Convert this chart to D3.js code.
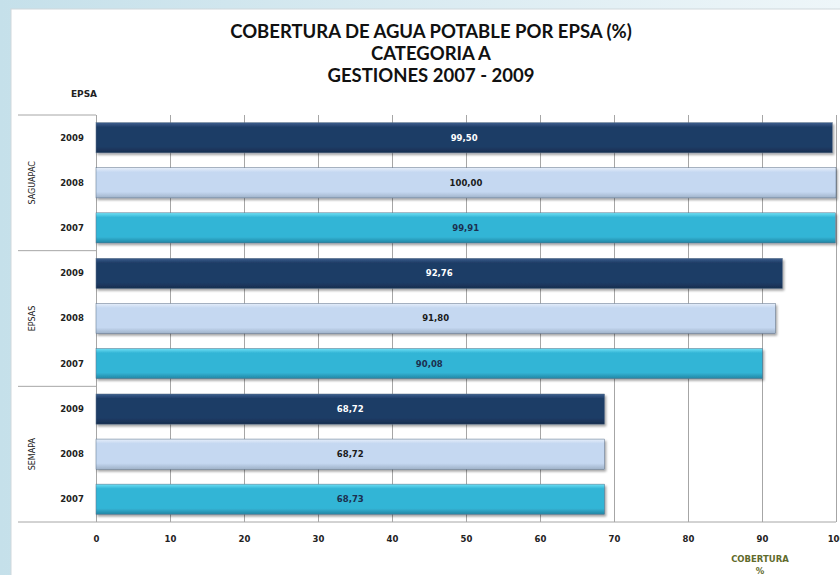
<!DOCTYPE html>
<html>
<head>
<meta charset="utf-8">
<script src="https://cdn.jsdelivr.net/npm/d3@7"></script>
<style>
  html, body { margin: 0; padding: 0; }
  body { width: 840px; height: 575px; overflow: hidden; background: #fff; }
</style>
</head>
<body>
<svg id="chart" width="840" height="575"></svg>
<script>
// data
var epsas = ["SAGUAPAC", "EPSAS", "SEMAPA"];
var years = ["2009", "2008", "2007"];
var v2009 = [99.50, 92.76, 68.72];
var v2008 = [100.00, 91.80, 68.72];
var v2007 = [99.91, 90.08, 68.73];
var xTicks = [0, 10, 20, 30, 40, 50, 60, 70, 80, 90, 100];
var titleLines = ["COBERTURA DE AGUA POTABLE POR EPSA (%)", "CATEGORIA A", "GESTIONES 2007 - 2009"];

var byYear = {"2009": v2009, "2008": v2008, "2007": v2007};
var rows = [];
epsas.forEach(function(e, i) {
  years.forEach(function(y) {
    rows.push({epsa: e, year: y, value: byYear[y][i]});
  });
});

var fills = {"2009": "url(#g2009)", "2008": "url(#g2008)", "2007": "url(#g2007)"};
var labelColor = {"2009": "#ffffff", "2008": "#1a1a1a", "2007": "#1c2f4f"};

var svg = d3.select("#chart");
var margin = {top: 115, right: 4, bottom: 53, left: 96},
    width = 840 - margin.left - margin.right,
    height = 575 - margin.top - margin.bottom;

// background
var defs = svg.append("defs");
var bg = defs.append("linearGradient").attr("id", "bg").attr("x1", 0).attr("x2", 1).attr("y1", 0).attr("y2", 0);
bg.append("stop").attr("offset", 0).attr("stop-color", "#c5e0ea");
bg.append("stop").attr("offset", 1).attr("stop-color", "#eef6f9");

function barGrad(id, top, mid, bot) {
  var g = defs.append("linearGradient").attr("id", id).attr("x1", 0).attr("x2", 0).attr("y1", 0).attr("y2", 1);
  g.append("stop").attr("offset", 0).attr("stop-color", top);
  g.append("stop").attr("offset", 0.15).attr("stop-color", mid);
  g.append("stop").attr("offset", 0.8).attr("stop-color", mid);
  g.append("stop").attr("offset", 1).attr("stop-color", bot);
}
barGrad("g2009", "#3c5f8e", "#1f3c66", "#172e4f");
barGrad("g2008", "#e6eefa", "#c5d8f1", "#9fb2c9");
barGrad("g2007", "#6fe0f5", "#33b5d6", "#2385a3");

var sh = defs.append("filter").attr("id", "shadow").attr("x", -0.02).attr("y", -0.2).attr("width", 1.05).attr("height", 1.6);
sh.append("feDropShadow").attr("dx", 1.5).attr("dy", 2).attr("stdDeviation", 1.2).attr("flood-color", "#000").attr("flood-opacity", 0.35);

svg.append("rect").attr("width", 840).attr("height", 575).attr("fill", "url(#bg)");
svg.append("rect").attr("x", 11).attr("y", 9).attr("width", 840).attr("height", 580)
  .attr("fill", "#fff").attr("stroke", "#cfd8dc");

// title
svg.append("g").selectAll("text")
  .data(titleLines)
  .enter().append("text")
  .attr("x", 431)
  .attr("y", function(d, i) { return 38 + i * 22; })
  .attr("text-anchor", "middle")
  .attr("font-family", "Lato, 'Open Sans', sans-serif")
  .attr("font-weight", "bold")
  .attr("font-size", 18.5)
  .attr("fill", "#111")
  .text(function(d) { return d; });

svg.append("text")
  .attr("x", 84).attr("y", 97)
  .attr("text-anchor", "middle")
  .attr("font-family", "'DejaVu Sans', sans-serif")
  .attr("font-weight", "bold")
  .attr("font-size", 9)
  .attr("fill", "#222")
  .text("EPSA");

var group = svg.append("g")
  .attr("transform", "translate(" + margin.left + "," + margin.top + ")");

var x = d3.scaleLinear().domain([0, 100]).range([0, width]);
var y0 = d3.scaleBand().domain(epsas).range([0, height]).padding(0);
var y1 = d3.scaleBand().domain(years).range([0, y0.bandwidth()]).paddingInner(0.33).paddingOuter(0.17);

// grid
var xAxis = d3.axisBottom(x)
  .tickValues(xTicks)
  .tickSizeInner(-height)
  .tickSizeOuter(0)
  .tickPadding(14)
  .tickFormat(d3.format("d"));

var gx = group.append("g")
  .attr("transform", "translate(0," + height + ")")
  .call(xAxis);
gx.select(".domain").remove();
gx.selectAll(".tick line").attr("stroke", "#a6a6a6").attr("stroke-width", 1);
gx.selectAll(".tick text")
  .attr("font-family", "'DejaVu Sans', sans-serif")
  .attr("font-weight", "bold")
  .attr("font-size", 8.5)
  .attr("fill", "#222");

// group separators extending into the category area
group.append("g").selectAll("line")
  .data(epsas.concat(["end"]))
  .enter().append("line")
  .attr("x1", -78).attr("x2", function(d) { return d === "end" ? width : 0; })
  .attr("y1", function(d) { return d === "end" ? height : y0(d); })
  .attr("y2", function(d) { return d === "end" ? height : y0(d); })
  .attr("stroke", "#a6a6a6");

// bars
var bars = group.append("g").selectAll("g")
  .data(rows)
  .enter().append("g")
  .attr("transform", function(d) { return "translate(0," + (y0(d.epsa) + y1(d.year)) + ")"; });

bars.append("rect")
  .attr("x", x(0))
  .attr("y", 0)
  .attr("width", function(d) { return x(d.value) - x(0); })
  .attr("height", y1.bandwidth())
  .attr("fill", function(d) { return fills[d.year]; })
  .attr("stroke", "#5a6f86")
  .attr("stroke-width", 0.5)
  .attr("filter", "url(#shadow)");

bars.append("text")
  .attr("x", function(d) { return x(d.value) / 2; })
  .attr("y", y1.bandwidth() / 2)
  .attr("dy", "0.35em")
  .attr("text-anchor", "middle")
  .attr("font-family", "'DejaVu Sans', sans-serif")
  .attr("font-weight", "bold")
  .attr("font-size", 8.5)
  .attr("fill", function(d) { return labelColor[d.year]; })
  .text(function(d) { return d.value.toFixed(2).replace(".", ","); });

// year labels
bars.append("text")
  .attr("x", -24)
  .attr("y", y1.bandwidth() / 2)
  .attr("dy", "0.35em")
  .attr("text-anchor", "middle")
  .attr("font-family", "'DejaVu Sans', sans-serif")
  .attr("font-weight", "bold")
  .attr("font-size", 8.5)
  .attr("fill", "#222")
  .text(function(d) { return d.year; });

// epsa labels
group.append("g").selectAll("text")
  .data(epsas)
  .enter().append("text")
  .attr("transform", function(d) { return "translate(-61," + (y0(d) + y0.bandwidth() / 2) + ") rotate(-90)"; })
  .attr("text-anchor", "middle")
  .attr("font-family", "'DejaVu Sans', sans-serif")
  .attr("font-size", 8)
  .attr("fill", "#222")
  .text(function(d) { return d; });

// axis title
var at = svg.append("text")
  .attr("x", 760).attr("y", 562)
  .attr("text-anchor", "middle")
  .attr("font-family", "'DejaVu Sans', sans-serif")
  .attr("font-weight", "bold")
  .attr("font-size", 8.5)
  .attr("fill", "#5f6b2c");
at.append("tspan").attr("x", 760).text("COBERTURA");
at.append("tspan").attr("x", 760).attr("dy", 12).text("%");
</script>
</body>
</html>
